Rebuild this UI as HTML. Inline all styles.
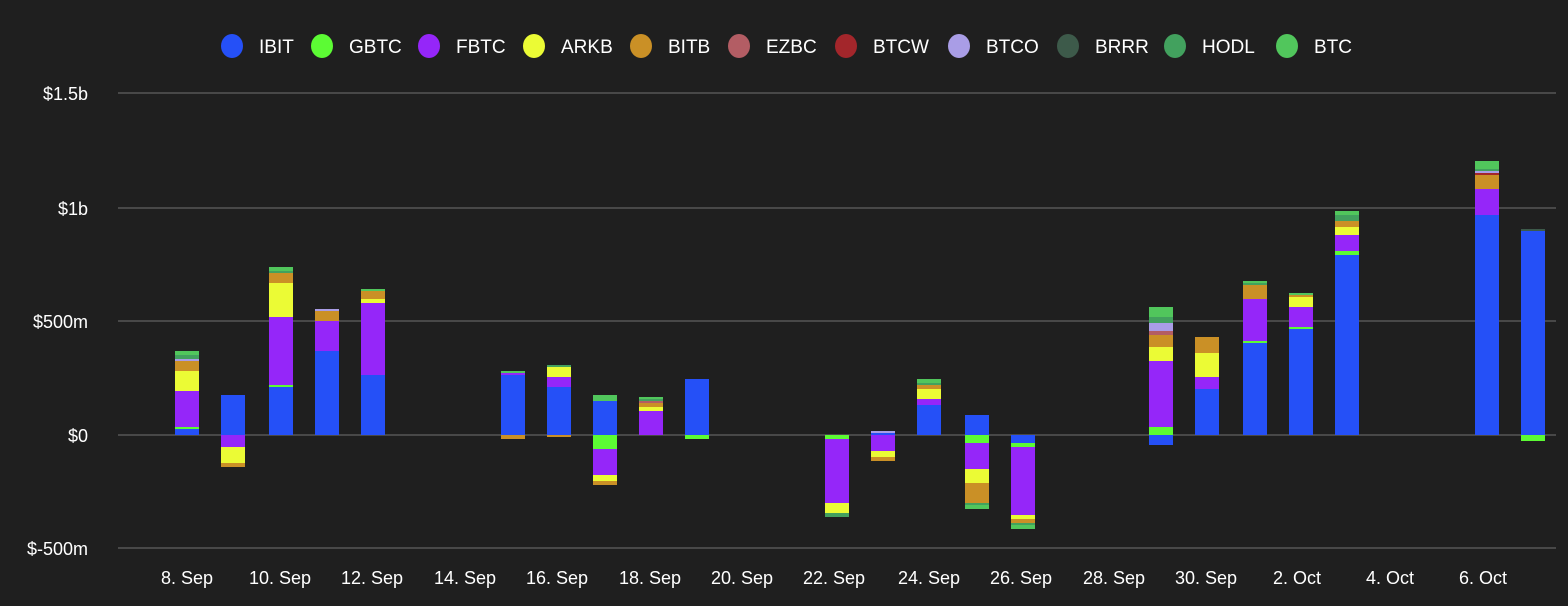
<!DOCTYPE html>
<html><head><meta charset="utf-8"><style>
html,body{margin:0;padding:0;background:#1f1f1f;width:1568px;height:606px;overflow:hidden}
svg{display:block;font-family:"Liberation Sans",sans-serif}
</style></head><body>
<svg id="s" width="1568" height="606" xmlns="http://www.w3.org/2000/svg">
<rect width="1568" height="606" fill="#1f1f1f"/>
<g stroke="#484848" stroke-width="2">
<line x1="118" y1="93" x2="1556" y2="93"/>
<line x1="118" y1="208" x2="1556" y2="208"/>
<line x1="118" y1="321" x2="1556" y2="321"/>
<line x1="118" y1="435" x2="1556" y2="435"/>
<line x1="118" y1="548" x2="1556" y2="548"/>
</g>
<g fill="#ffffff" font-size="18" text-anchor="end">
<text x="88" y="100">$1.5b</text>
<text x="88" y="215">$1b</text>
<text x="88" y="328">$500m</text>
<text x="88" y="442">$0</text>
<text x="88" y="555">$-500m</text>
</g>
<g fill="#ffffff" font-size="18" text-anchor="middle">
<text x="187" y="584">8. Sep</text><text x="280" y="584">10. Sep</text><text x="372" y="584">12. Sep</text>
<text x="465" y="584">14. Sep</text><text x="557" y="584">16. Sep</text><text x="650" y="584">18. Sep</text>
<text x="742" y="584">20. Sep</text><text x="834" y="584">22. Sep</text><text x="929" y="584">24. Sep</text>
<text x="1021" y="584">26. Sep</text><text x="1114" y="584">28. Sep</text><text x="1206" y="584">30. Sep</text>
<text x="1297" y="584">2. Oct</text><text x="1390" y="584">4. Oct</text><text x="1483" y="584">6. Oct</text>
</g>
<g id="bars"></g>
<g id="leg" font-size="19" fill="#ffffff"></g>
</svg>
<script>
var C={I:"#2550f7",G:"#5cfb34",F:"#9526f9",A:"#ebfb35",B:"#ca9026",E:"#b35d64",W:"#a3262b",O:"#a99de6",R:"#3d5a4a",H:"#42a15e",T:"#51c65c"};
var bars=[
[175,[["T",351,355],["H",355,359],["O",359,361],["B",361,371],["A",371,391],["F",391,427],["G",427,429],["I",429,435]]],
[221,[["I",395,435],["F",435,447],["A",447,463],["B",463,467]]],
[269,[["T",267,271],["H",271,273],["B",273,283],["A",283,317],["F",317,385],["G",385,387],["I",387,435]]],
[315,[["O",309,311],["B",311,321],["F",321,351],["I",351,435]]],
[361,[["T",289,291],["B",291,299],["A",299,303],["F",303,375],["I",375,435]]],
[501,[["T",371,373],["F",373,375],["I",375,435],["B",435,439]]],
[547,[["H",365,367],["A",367,377],["F",377,387],["I",387,435],["B",435,437]]],
[593,[["T",395,401],["I",401,435],["G",435,449],["F",449,475],["A",475,481],["B",481,485]]],
[639,[["T",397,399],["H",399,401],["E",401,403],["B",403,407],["A",407,411],["F",411,435]]],
[685,[["I",379,435],["G",435,439]]],
[825,[["G",435,439],["F",439,503],["A",503,513],["H",513,517]]],
[871,[["O",431,433],["I",433,435],["F",435,451],["A",451,457],["B",457,461]]],
[917,[["T",379,383],["H",383,385],["B",385,389],["A",389,399],["F",399,405],["I",405,435]]],
[965,[["I",415,435],["G",435,443],["F",443,469],["A",469,483],["B",483,503],["H",503,505],["T",505,509]]],
[1011,[["I",435,443],["G",443,447],["F",447,515],["A",515,519],["B",519,523],["H",523,525],["T",525,529]]],
[1149,[["T",307,317],["H",317,323],["O",323,331],["E",331,335],["B",335,347],["A",347,361],["F",361,427],["G",427,435],["I",435,445]]],
[1195,[["B",337,353],["A",353,377],["F",377,389],["I",389,435]]],
[1243,[["T",281,283],["H",283,285],["B",285,299],["F",299,341],["G",341,343],["I",343,435]]],
[1289,[["T",293,295],["B",295,297],["A",297,307],["F",307,327],["G",327,329],["I",329,435]]],
[1335,[["T",211,215],["H",215,221],["B",221,227],["A",227,235],["F",235,251],["G",251,255],["I",255,435]]],
[1475,[["T",161,169],["H",169,171],["O",171,173],["W",173,175],["B",175,189],["F",189,215],["I",215,435]]],
[1521,[["R",229,231],["I",231,435],["G",435,441]]]
];
var ns="http://www.w3.org/2000/svg",g=document.getElementById("bars");
bars.forEach(function(b){b[1].forEach(function(s){var r=document.createElementNS(ns,"rect");
r.setAttribute("x",b[0]);r.setAttribute("y",s[1]);r.setAttribute("width",24);r.setAttribute("height",s[2]-s[1]);r.setAttribute("fill",C[s[0]]);g.appendChild(r);});});
var leg=[["I","IBIT",259],["G","GBTC",349],["F","FBTC",456],["A","ARKB",561],["B","BITB",668],["E","EZBC",766],["W","BTCW",873],["O","BTCO",986],["R","BRRR",1095],["H","HODL",1202],["T","BTC",1314]];
var L=document.getElementById("leg");
leg.forEach(function(l){var c=document.createElementNS(ns,"ellipse");c.setAttribute("cx",l[2]-27);c.setAttribute("cy",46);c.setAttribute("rx",11);c.setAttribute("ry",12);c.setAttribute("fill",C[l[0]]);L.appendChild(c);
var t=document.createElementNS(ns,"text");t.setAttribute("x",l[2]);t.setAttribute("y",53);t.textContent=l[1];L.appendChild(t);});
</script>
</body></html>
